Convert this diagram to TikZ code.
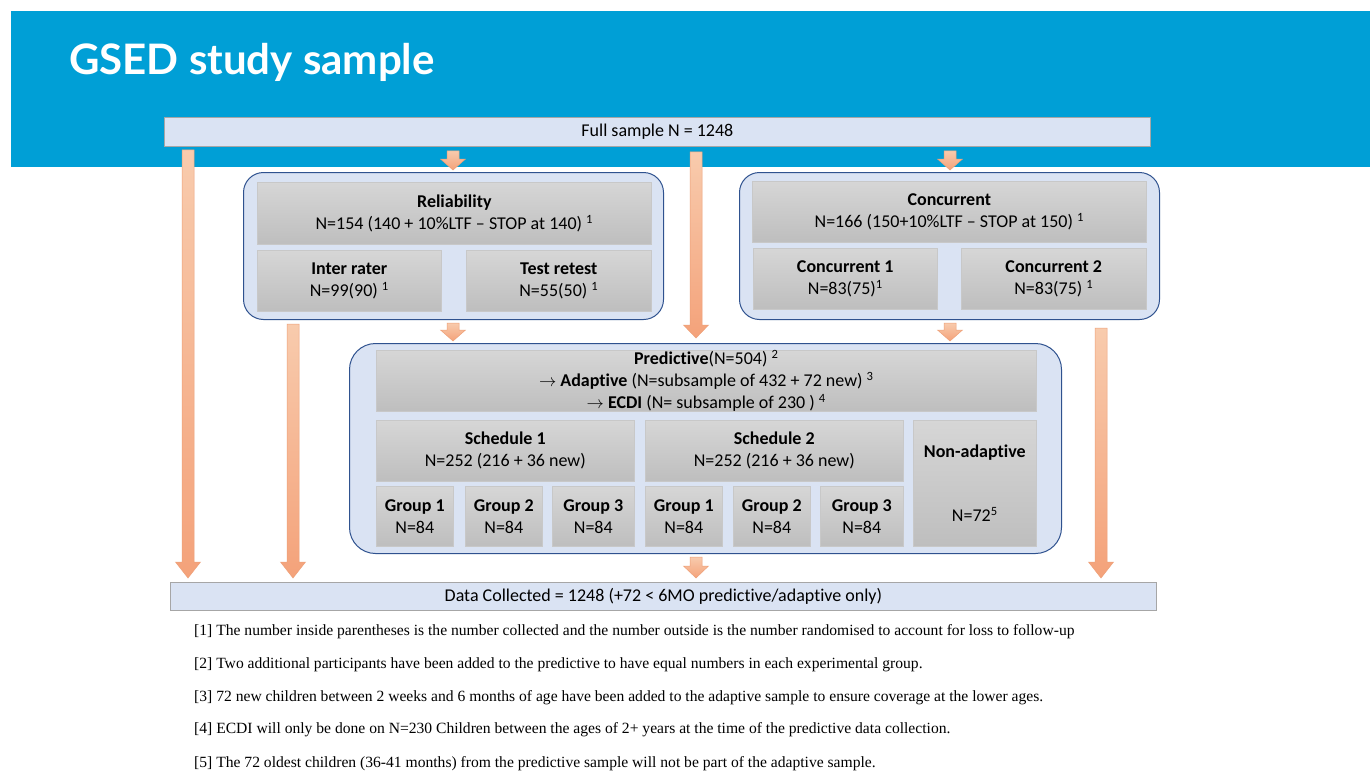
\documentclass[tikz,border=0pt]{standalone}
\usepackage{fontspec}
\setmainfont{Carlito}[RawFeature={-liga;-clig;-calt;-dlig}]
\newfontfamily\titlefont{Lato}
\newfontfamily\notefont{Liberation Serif}
\usetikzlibrary{calc}
\definecolor{banner}{RGB}{0,159,214}
\definecolor{paleblue}{RGB}{218,227,243}
\definecolor{frameblue}{RGB}{47,82,143}
\definecolor{boxline}{RGB}{166,166,166}
\definecolor{greytop}{RGB}{214,214,214}
\definecolor{greybot}{RGB}{190,190,190}
\definecolor{greyline}{RGB}{200,200,200}
\definecolor{arrowtop}{RGB}{248,203,173}
\definecolor{arrowbot}{RGB}{244,162,122}
\definecolor{arrowline}{RGB}{238,160,120}
\newcommand\blockarrow[3]{%
  \path[arrowfill] let \p1=#1, \p2=#2 in
    (\x1-6pt,\y1) -- (\x1+6pt,\y1) -- (\x1+6pt,\y2+#3) -- (\x1+12.5pt,\y2+#3)
    -- (\x1,\y2) -- (\x1-12.5pt,\y2+#3) -- (\x1-6pt,\y2+#3) -- cycle;}
\begin{document}
\begin{tikzpicture}[x=1pt,y=-1pt,
  bar/.style={draw=boxline, fill=paleblue, line width=0.8pt, anchor=north west,
    inner sep=0pt, font=\fontsize{18}{22}\selectfont},
  container/.style={draw=frameblue, fill=paleblue, line width=1pt,
    rounded corners=20pt, anchor=north west, inner sep=0pt},
  cell/.style={draw=greyline, top color=greytop, bottom color=greybot,
    line width=0.6pt, anchor=north west, inner sep=0pt, align=center,
    font=\fontsize{18}{22}\selectfont},
  note/.style={anchor=base west, inner sep=0pt, font=\notefont\fontsize{15.6}{17}\selectfont},
  arrowfill/.style={top color=arrowtop, bottom color=arrowbot, draw=arrowline, line width=0.5pt}]
\useasboundingbox (0,0) rectangle (1370,771);
\fill[white] (0,0) rectangle (1370,771);
\fill[banner] (11,11) rectangle (1370,167);
\node[anchor=base west, text=white, inner sep=0pt,
  font=\titlefont\bfseries\fontsize{42}{46}\selectfont] (title) at (69,74) {GSED study sample};

% top and bottom bars
\node[bar, minimum width=986pt, minimum height=29pt] (full) at (164,117) {Full sample N = 1248};
\node[bar, minimum width=986pt, minimum height=28pt] (data) at (170,582)
  {Data Collected = 1248 (+72 < 6MO predictive/adaptive only)};

% reliability
\node[container, minimum width=420pt, minimum height=147pt] (relc) at (243,172) {};
\node[cell, minimum width=394pt, minimum height=62pt] (relh) at (257,182)
  {\textbf{Reliability}\\N=154 (140 + 10\%LTF – STOP at 140) \textsuperscript{1}};
\node[cell, minimum width=184pt, minimum height=61pt] (inter) at (257,250)
  {\textbf{Inter rater}\\N=99(90) \textsuperscript{1}};
\node[cell, minimum width=185pt, minimum height=61pt] (retest) at (466,250)
  {\textbf{Test retest}\\N=55(50) \textsuperscript{1}};

% concurrent
\node[container, minimum width=420pt, minimum height=147pt] (concc) at (739,172) {};
\node[cell, minimum width=394pt, minimum height=61pt] (conch) at (752,181)
  {\textbf{Concurrent}\\N=166 (150+10\%LTF – STOP at 150) \textsuperscript{1}};
\node[cell, minimum width=184pt, minimum height=61pt] (conc1) at (753,248)
  {\textbf{Concurrent 1}\\N=83(75)\textsuperscript{1}};
\node[cell, minimum width=185pt, minimum height=61pt] (conc2) at (961,248)
  {\textbf{Concurrent 2}\\N=83(75) \textsuperscript{1}};

% predictive
\node[container, rounded corners=26pt, minimum width=712pt, minimum height=210pt] (predc) at (349,343) {};
\node[cell, minimum width=660pt, minimum height=61pt] (predh) at (376,350)
  {\textbf{Predictive}(N=504) \textsuperscript{2}\\
   $\rightarrow$ \textbf{Adaptive} (N=subsample of 432 + 72 new) \textsuperscript{3}\\
   $\rightarrow$ \textbf{ECDI} (N= subsample of 230 ) \textsuperscript{4}};
\node[cell, minimum width=258pt, minimum height=61pt] (s1) at (376,420)
  {\textbf{Schedule 1}\\N=252 (216 + 36 new)};
\node[cell, minimum width=258pt, minimum height=61pt] (s2) at (645,420)
  {\textbf{Schedule 2}\\N=252 (216 + 36 new)};
\node[cell, minimum width=123pt, minimum height=126pt] (nonad) at (913,420)
  {\textbf{Non-adaptive}\\[42pt]N=72\textsuperscript{5}};
\node[cell, minimum width=77pt, minimum height=60pt] (g1) at (376,486) {\textbf{Group 1}\\N=84};
\node[cell, minimum width=77pt, minimum height=60pt] (g2) at (465,486) {\textbf{Group 2}\\N=84};
\node[cell, minimum width=82pt, minimum height=60pt] (g3) at (552,486) {\textbf{Group 3}\\N=84};
\node[cell, minimum width=77pt, minimum height=60pt] (g4) at (645,486) {\textbf{Group 1}\\N=84};
\node[cell, minimum width=77pt, minimum height=60pt] (g5) at (733,486) {\textbf{Group 2}\\N=84};
\node[cell, minimum width=83pt, minimum height=60pt] (g6) at (820,486) {\textbf{Group 3}\\N=84};

% arrow x positions
\coordinate (xa) at (188,0);
\coordinate (xb) at (453,0);
\coordinate (xc) at (696,0);
\coordinate (xd) at (950,0);
\coordinate (xe) at (293,0);
\coordinate (xf) at (1101,0);

\blockarrow{($(full.south -| xa)+(0,3)$)}{($(data.north -| xa)+(0,-4)$)}{16pt}
\blockarrow{($(full.south -| xb)+(0,4)$)}{($(relc.north -| xb)+(0,-2)$)}{11pt}
\blockarrow{($(full.south -| xc)+(0,5)$)}{($(predc.north -| xc)+(0,-5)$)}{13pt}
\blockarrow{($(full.south -| xd)+(0,4)$)}{($(concc.north -| xd)+(0,-2)$)}{11pt}
\blockarrow{($(relc.south -| xe)+(0,4)$)}{($(data.north -| xe)+(0,-4)$)}{16pt}
\blockarrow{($(relc.south -| xb)+(0,3)$)}{($(predc.north -| xb)+(0,-2)$)}{11pt}
\blockarrow{($(concc.south -| xd)+(0,3)$)}{($(predc.north -| xd)+(0,-2)$)}{11pt}
\blockarrow{($(concc.south -| xf)+(0,8)$)}{($(data.north -| xf)+(0,-4)$)}{16pt}
\blockarrow{($(predc.south -| xc)+(0,3)$)}{($(data.north -| xc)+(0,-4)$)}{12pt}

% footnotes
\node[note] (n1) at (194,635) {[1] The number inside parentheses is the number collected and the number outside is the number randomised to account for loss to follow-up};
\node[note] (n2) at (194,668) {[2] Two additional participants have been added to the predictive to have equal numbers in each experimental group.};
\node[note] (n3) at (194,701) {[3] 72 new children between 2 weeks and 6 months of age have been added to the adaptive sample to ensure coverage at the lower ages.};
\node[note] (n4) at (194,733) {[4] ECDI will only be done on N=230 Children between the ages of 2+ years at the time of the predictive data collection.};
\node[note] (n5) at (194,767) {[5] The 72 oldest children (36-41 months) from the predictive sample will not be part of the adaptive sample.};
\end{tikzpicture}
\end{document}
